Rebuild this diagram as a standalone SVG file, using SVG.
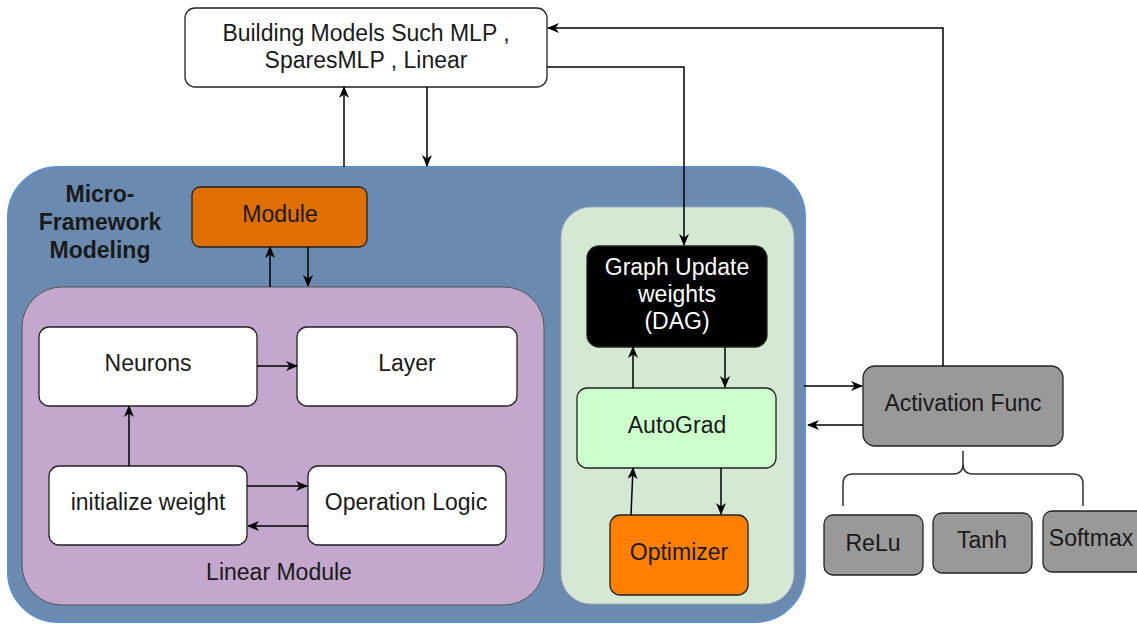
<svg xmlns="http://www.w3.org/2000/svg" width="1137" height="624" viewBox="0 0 1137 624">
<defs>
<marker id="ah" viewBox="0 0 12 10" refX="11" refY="5" markerWidth="12" markerHeight="10" markerUnits="userSpaceOnUse" orient="auto">
<path d="M0,0 L12,5 L0,10 L3.5,5 Z" fill="#000"/>
</marker>
<style>
text{font-family:"Liberation Sans",Arial,sans-serif;font-size:23px;fill:#1a1a1a;text-anchor:middle;dominant-baseline:central}
.box{stroke:#222;stroke-width:1.3}
.w{fill:#fff}
.g{fill:#999999}
.c{fill:none;stroke:#000;stroke-width:1.5;marker-end:url(#ah)}
</style>
</defs>
<rect width="1137" height="624" fill="#fff"/>
<g id="container-main">
<rect x="8" y="167" width="797" height="455" rx="50" fill="#6A8BAF" stroke="#5F8FCB" stroke-width="2"/>
<text x="100" y="194" style="font-weight:bold">Micro-</text>
<text x="100" y="222" style="font-weight:bold">Framework</text>
<text x="100" y="250" style="font-weight:bold">Modeling</text>
</g>
<g id="linear-module">
<rect x="22" y="287" width="522" height="318" rx="40" fill="#C3A7CD" stroke="#555" stroke-width="1"/>
<text x="279" y="572">Linear Module</text>
</g>
<g id="green-container">
<rect x="561" y="207" width="233" height="397" rx="30" fill="#D5E8D4" stroke="#aab" stroke-width="1"/>
</g>
<g id="building-models">
<rect class="box w" x="185" y="8" width="362" height="79" rx="10"/>
<text x="366" y="33">Building Models Such MLP ,</text>
<text x="366" y="60">SparesMLP , Linear</text>
</g>
<g id="module">
<rect class="box" x="192" y="187" width="175" height="60" rx="8" fill="#DF6F00"/>
<text x="280" y="214">Module</text>
</g>
<g id="neurons">
<rect class="box w" x="39" y="327" width="218" height="79" rx="10"/>
<text x="148" y="363">Neurons</text>
</g>
<g id="layer">
<rect class="box w" x="297" y="327" width="220" height="79" rx="10"/>
<text x="407" y="363">Layer</text>
</g>
<g id="initialize-weight">
<rect class="box w" x="49" y="466" width="198" height="79" rx="10"/>
<text x="148" y="502">initialize weight</text>
</g>
<g id="operation-logic">
<rect class="box w" x="308" y="466" width="198" height="79" rx="10"/>
<text x="406" y="502">Operation Logic</text>
</g>
<g id="graph-update">
<rect class="box" x="587" y="246" width="180" height="101" rx="12" fill="#000"/>
<text x="677" y="267" style="fill:#fff">Graph Update</text>
<text x="677" y="294" style="fill:#fff">weights</text>
<text x="677" y="321" style="fill:#fff">(DAG)</text>
</g>
<g id="autograd">
<rect class="box" x="577" y="388" width="199" height="80" rx="10" fill="#CCFFCC"/>
<text x="677" y="425">AutoGrad</text>
</g>
<g id="optimizer">
<rect class="box" x="610" y="515" width="138" height="80" rx="10" fill="#FF8000"/>
<text x="679" y="552">Optimizer</text>
</g>
<g id="activation-func">
<rect class="box g" x="863" y="366" width="200" height="80" rx="12"/>
<text x="963" y="403">Activation Func</text>
</g>
<g id="relu">
<rect class="box g" x="824" y="515" width="99" height="60" rx="9"/>
<text x="873" y="543">ReLu</text>
</g>
<g id="tanh">
<rect class="box g" x="933" y="513" width="99" height="60" rx="9"/>
<text x="982" y="540">Tanh</text>
</g>
<g id="softmax">
<rect class="box g" x="1043" y="511" width="104" height="61" rx="9"/>
<text x="1091" y="538">Softmax</text>
</g>
<g id="connectors">
<path class="c" d="M344,167 V87"/>
<path class="c" d="M427,87 V166"/>
<path class="c" d="M270,287 V247"/>
<path class="c" d="M308,247 V286"/>
<path class="c" d="M257,366 H297"/>
<path class="c" d="M129,466 V406"/>
<path class="c" d="M247,486 H307"/>
<path class="c" d="M308,526 H248"/>
<path class="c" d="M547,67 H684 V245"/>
<path class="c" d="M943,366 V28 H548"/>
<path class="c" d="M633,388 V347"/>
<path class="c" d="M725,347 V387"/>
<path class="c" d="M631,515 L633,468"/>
<path class="c" d="M721,468 V514"/>
<path class="c" d="M804,386 H862"/>
<path class="c" d="M863,425 H808"/>
<path d="M843,506 V484 Q843,474 853,474 H953 Q963,474 963,464 V451 M963,464 Q963,474 973,474 H1073 Q1083,474 1083,484 V506" fill="none" stroke="#333" stroke-width="1.5"/>
</g>
</svg>
